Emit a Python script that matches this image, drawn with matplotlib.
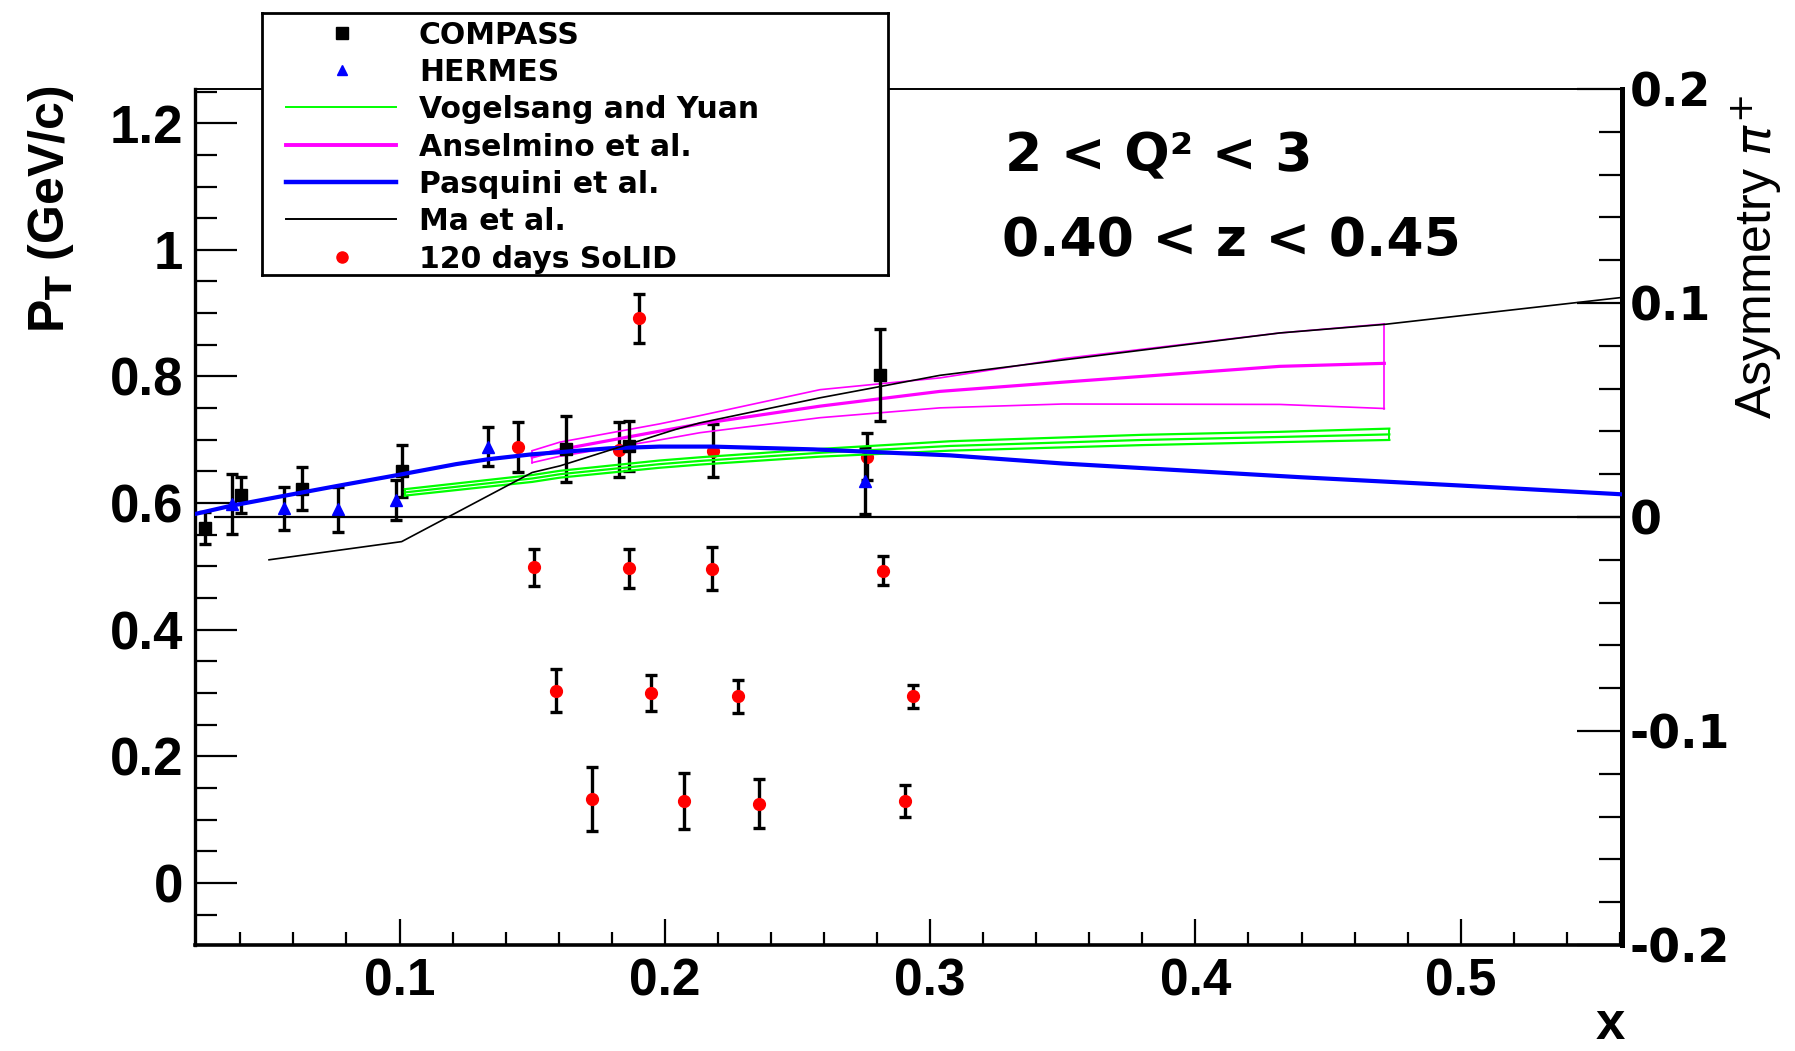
import matplotlib.pyplot as plt
from matplotlib.ticker import MultipleLocator

W, H = 1795, 1051

# COMPASS and HERMES data (asymmetry, right axis)
compass_x = [0.0267, 0.0402, 0.0633, 0.1011, 0.1628, 0.1865, 0.2810]
compass_a = [-0.0051, 0.0104, 0.0133, 0.0215, 0.0318, 0.0332, 0.0665]
compass_err = [0.0075, 0.0085, 0.0100, 0.0120, 0.0153, 0.0115, 0.0215]

hermes_x = [0.0367, 0.0565, 0.0769, 0.0988, 0.1335, 0.2755]
hermes_a = [0.0060, 0.0040, 0.0037, 0.0080, 0.0329, 0.0169]
hermes_err = [0.0141, 0.0101, 0.0105, 0.0093, 0.0092, 0.0153]

# SoLID projection, placed at P_T (left axis)
solid_x = [0.1902,
           0.1448, 0.1829, 0.2183, 0.2761,
           0.1508, 0.1865, 0.2179, 0.2824,
           0.1589, 0.1949, 0.2277, 0.2934,
           0.1724, 0.2074, 0.2356, 0.2905]
solid_pt = [0.892,
            0.6886, 0.6844, 0.6825, 0.6735,
            0.4983, 0.4970, 0.4964, 0.4934,
            0.3035, 0.2998, 0.2951, 0.2945,
            0.1324, 0.1294, 0.1251, 0.1294]
solid_err = [0.039,
             0.039, 0.044, 0.042, 0.037,
             0.029, 0.031, 0.034, 0.0235,
             0.034, 0.028, 0.026, 0.018,
             0.050, 0.044, 0.039, 0.026]

# theory curves (asymmetry)
pasq_x = [0.0229, 0.0367, 0.0565, 0.0769, 0.0988, 0.1213, 0.1335, 0.150, 0.179,
          0.198, 0.218, 0.256, 0.3075, 0.35, 0.4394, 0.50, 0.5608]
pasq_a = [0.0014, 0.0053, 0.0099, 0.0146, 0.0195, 0.0247, 0.0270, 0.0293, 0.0321,
          0.0329, 0.0329, 0.0316, 0.0288, 0.0250, 0.0186, 0.0147, 0.0106]

vy_x = [0.102, 0.150, 0.1605, 0.198, 0.2133, 0.2585, 0.3075, 0.380, 0.4318, 0.4731]
vy_mid = [0.0115, 0.0180, 0.0200, 0.0247, 0.0262, 0.0300, 0.0332, 0.0360, 0.0374, 0.0386]
vy_lo = [0.0100, 0.0164, 0.0184, 0.0230, 0.0245, 0.0282, 0.0310, 0.0336, 0.0350, 0.0360]
vy_hi = [0.0130, 0.0196, 0.0216, 0.0264, 0.0279, 0.0318, 0.0354, 0.0384, 0.0398, 0.0413]

ans_x = [0.150, 0.1605, 0.198, 0.2133, 0.2585, 0.3037, 0.350, 0.4318, 0.4712]
ans_hi = [0.0310, 0.0350, 0.0435, 0.0474, 0.0595, 0.0650, 0.0740, 0.0860, 0.0902]
ans_mid = [0.0280, 0.0315, 0.0401, 0.0435, 0.0518, 0.0587, 0.0630, 0.0704, 0.0718]
ans_lo = [0.0254, 0.0284, 0.0360, 0.0394, 0.0464, 0.0510, 0.0528, 0.0526, 0.0507]

ma_x = [0.0508, 0.1008, 0.150, 0.1605, 0.204, 0.2133, 0.2585, 0.3037, 0.4318, 0.4712, 0.5608]
ma_a = [-0.0200, -0.0115, 0.0208, 0.0239, 0.0409, 0.0440, 0.0557, 0.0662, 0.0860, 0.0900, 0.1026]

zero_start = 0.030

x_ticks = [0.1, 0.2, 0.3, 0.4, 0.5]
x_labels = ['0.1', '0.2', '0.3', '0.4', '0.5']
pt_ticks = [0, 0.2, 0.4, 0.6, 0.8, 1.0, 1.2]
pt_labels = ['0', '0.2', '0.4', '0.6', '0.8', '1', '1.2']
asym_ticks = [-0.2, -0.1, 0, 0.1, 0.2]
asym_labels = ['-0.2', '-0.1', '0', '0.1', '0.2']

PX = 72 / 100  # points per pixel

fig = plt.figure(figsize=(W / 100, H / 100), dpi=100)
ax = fig.add_axes([195 / W, 1 - 945 / H, (1622 - 195) / W, (945 - 89) / H])
ax2 = ax.twinx()

ax.set_xlim(0.0229, 0.5608)
ax.set_ylim(-0.098, 1.254)
ax2.set_ylim(-0.2, 0.2)

# SoLID points on the P_T axis
ax.errorbar(solid_x, solid_pt, yerr=solid_err, fmt='o', color='red', ms=8.5,
            ecolor='black', elinewidth=2.4, capsize=4, capthick=2.4, zorder=2)

# Anselmino band
ax2.plot(ans_x, ans_mid, color='#ff00ff', lw=2.3, zorder=2)
ax2.plot(ans_x, ans_hi, color='#ff00ff', lw=1.2, zorder=2)
ax2.plot(ans_x, ans_lo, color='#ff00ff', lw=1.2, zorder=2)
for i in [0, -1]:
    ax2.plot([ans_x[i], ans_x[i]], [ans_lo[i], ans_hi[i]], color='#ff00ff', lw=1.2, zorder=2)

ax2.errorbar(compass_x, compass_a, yerr=compass_err, fmt='s', color='black', ms=8.5,
             ecolor='black', elinewidth=2.4, capsize=4, capthick=2.4, zorder=3)
ax2.errorbar(hermes_x, hermes_a, yerr=hermes_err, fmt='^', color='blue', ms=9,
             ecolor='black', elinewidth=2.4, capsize=4, capthick=2.4, zorder=3)

# Vogelsang and Yuan band
for ys in (vy_lo, vy_mid, vy_hi):
    ax2.plot(vy_x, ys, color='#00ff00', lw=1.6, zorder=4)
for i in [0, -1]:
    ax2.plot([vy_x[i], vy_x[i]], [vy_lo[i], vy_hi[i]], color='#00ff00', lw=1.4, zorder=4)

ax2.plot(pasq_x, pasq_a, color='#0000ff', lw=3.0, zorder=4)
ax2.plot(ma_x, ma_a, color='black', lw=1.2, zorder=4)
ax2.hlines(0, zero_start, ax.get_xlim()[1], color='black', lw=1.6, zorder=4)

# ticks
ax.set_xticks(x_ticks, x_labels, fontfamily='Liberation Sans', fontweight='bold', fontsize=37)
ax.xaxis.set_minor_locator(MultipleLocator(0.02))
ax.set_yticks(pt_ticks, pt_labels, fontfamily='Liberation Sans', fontweight='bold', fontsize=38)
ax.yaxis.set_minor_locator(MultipleLocator(0.05))
ax2.set_yticks(asym_ticks, asym_labels, fontfamily='DejaVu Sans', fontweight='bold', fontsize=33)
ax2.yaxis.set_minor_locator(MultipleLocator(0.02))

ax.tick_params(axis='x', which='major', direction='in', length=26 * PX, width=1.6,
               pad=13 * PX, top=False)
ax.tick_params(axis='x', which='minor', direction='in', length=13 * PX, width=1.6, top=False)
ax.tick_params(axis='y', which='major', direction='in', length=42 * PX, width=1.6,
               pad=12 * PX, right=False)
ax.tick_params(axis='y', which='minor', direction='in', length=22 * PX, width=1.6, right=False)
ax2.tick_params(axis='y', which='major', direction='in', length=45 * PX, width=1.6,
                pad=8 * PX, left=False)
ax2.tick_params(axis='y', which='minor', direction='in', length=23 * PX, width=1.6, left=False)

ax.spines['top'].set_linewidth(1.4)
ax.spines['left'].set_linewidth(2.4)
ax.spines['bottom'].set_linewidth(2.6)
ax.spines['right'].set_visible(False)
for s in ['left', 'top', 'bottom']:
    ax2.spines[s].set_visible(False)
ax2.spines['right'].set_linewidth(3.6)

# axis titles and labels
fig.text(51 / W, 1 - 209 / H, r'P$_{\mathbf{T}}$ (GeV/c)', rotation=90, ha='center', va='center',
         fontfamily='Liberation Sans', fontweight='bold', fontsize=36)
fig.text(1757 / W, 1 - 257 / H, r'Asymmetry $\pi^{+}$', rotation=90, ha='center', va='center',
         fontfamily='Liberation Sans', fontsize=36)
fig.text(1625 / W, 1 - 1039 / H, 'x', ha='right', va='baseline',
         fontfamily='Liberation Sans', fontweight='bold', fontsize=38)

fig.text(1005 / W, 1 - 171.7 / H, '2 < Q² < 3', ha='left', va='baseline',
         fontfamily='DejaVu Sans', fontweight='bold', fontsize=38.5)
fig.text(1001.7 / W, 1 - 256.7 / H, '0.40 < z < 0.45', ha='left', va='baseline',
         fontfamily='DejaVu Sans', fontweight='bold', fontsize=38.5)

# legend box
lax = fig.add_axes([262 / W, 1 - 275 / H, 626 / W, 262 / H], zorder=10)
lax.set_xlim(0, 626)
lax.set_ylim(262, 0)
lax.set_xticks([])
lax.set_yticks([])
lax.set_facecolor('white')
for s in lax.spines.values():
    s.set_linewidth(2.0)

legend_entries = [
    ('COMPASS', dict(marker='s', color='black', ms=8, ls='none')),
    ('HERMES', dict(marker='^', color='blue', ms=7.5, ls='none')),
    ('Vogelsang and Yuan', dict(color='#00ff00', lw=1.4)),
    ('Anselmino et al.', dict(color='#ff00ff', lw=2.8)),
    ('Pasquini et al.', dict(color='#0000ff', lw=3.2)),
    ('Ma et al.', dict(color='black', lw=1.4)),
    ('120 days SoLID', dict(marker='o', color='red', ms=8, ls='none')),
]
for i, (label, style) in enumerate(legend_entries):
    y = 19.7 + i * 37.33
    if style.get('ls') == 'none':
        lax.plot([79.6], [y], **style)
    else:
        lax.plot([24, 134], [y, y], **style)
    lax.text(157, y + 11, label, ha='left', va='baseline',
             fontfamily='DejaVu Sans', fontweight='bold', fontsize=21.5)

fig.savefig('out.png', dpi=100)
